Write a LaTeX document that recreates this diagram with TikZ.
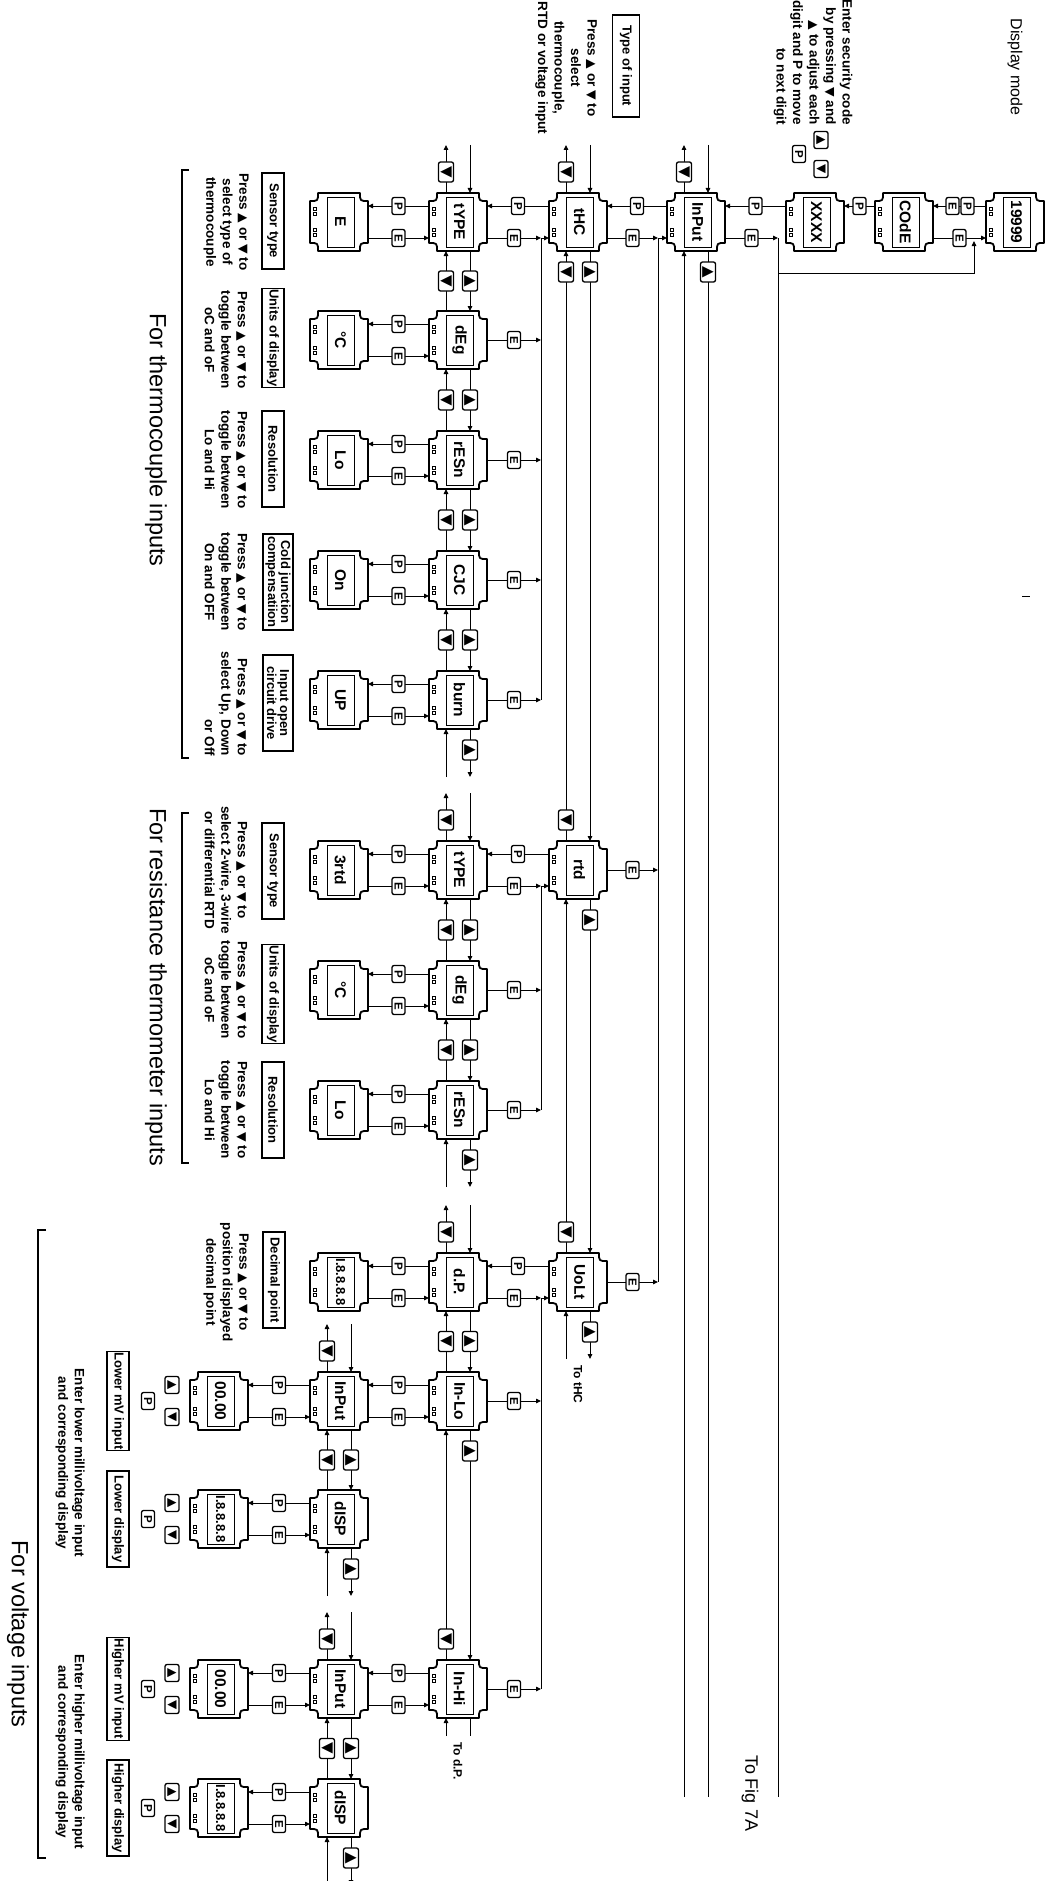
\documentclass[tikz,border=0pt]{standalone}
\usepackage{fontspec}
\setmainfont{Liberation Sans}
\newfontfamily\dvf{DejaVu Sans}
\usetikzlibrary{calc,arrows.meta}
\newcommand\TriU{{\dvf\fontsize{15}{15}\selectfont ▲}}
\newcommand\TriD{{\dvf\fontsize{15}{15}\selectfont ▼}}
\newcommand\TriUs{{\dvf\fontsize{12}{12}\selectfont ▲}}
\newcommand\TriDs{{\dvf\fontsize{12}{12}\selectfont ▼}}
\newcommand\txU{{\dvf\fontsize{12.5}{16}\selectfont ▲}}
\newcommand\txD{{\dvf\fontsize{12.5}{16}\selectfont ▼}}
\newcommand\Dev[4]{%
 \node[devbody] (#1) at (#2,#3) {};
 \begin{scope}[shift={(#1.center)}]
  \draw[devline] (-21,-29) -- (21,-29) .. controls (21,-21) .. (29,-21) -- (29,21) .. controls (21,21) .. (21,29) -- (-21,29) .. controls (-21,21) .. (-29,21) -- (-29,-21) .. controls (-21,-21) .. (-21,-29) -- cycle;
  \draw[disp] (-12,-25) rectangle (15,25);
  \foreach \s in {-14.5,-9.5,6.5,11.5} \draw[line width=0.6pt] (-25.5,\s) rectangle ++(3,3);
 \end{scope}
 \node[devtxt] (#1-t) at ($(#1)+(1.5,0)$) {#4};
}
\newcommand\PEl[2]{%
 \draw[conn,arr] ($(#1)+(-29,-16)$) -- node[pbtn] (P-#2) {P} ($(#2)+(29,-16)$);
 \draw[conn,arr] ($(#2)+(29,16)$) -- node[pbtn] (E-#2) {E} ($(#1)+(-29,16)$);}
\newcommand\Ponly[2]{%
 \draw[conn,arr] ($(#1)+(-29,-16)$) -- node[pbtn] (P-#2) {P} ($(#2)+(29,-16)$);}
\newcommand\UDl[2]{%
 \draw[conn,arr] ($(#2)+(-12,-29)$) -- node[tbtn] (U-#2) {\TriD} ($(#1)+(-12,29)$);
 \draw[conn,arr] ($(#1)+(12,29)$) -- node[tbtn] (D-#1) {\TriU} ($(#2)+(12,-29)$);}
\newcommand\TopS[1]{%
 \draw[conn,arr] ($(#1)+(-12,-29)$) -- ($(#1)+(-12,-77)$);
 \node[tbtn] (U-#1) at ($(#1)+(-12,-50)$) {\TriD};
 \draw[conn,arr] ($(#1)+(12,-77)$) -- ($(#1)+(12,-29)$);}
\newcommand\BotS[1]{%
 \draw[conn,arr] ($(#1)+(12,29)$) -- ($(#1)+(12,77)$);
 \node[tbtn] (D-#1) at ($(#1)+(12,50)$) {\TriU};
 \draw[conn,arr] ($(#1)+(-12,77)$) -- ($(#1)+(-12,29)$);}
\newcommand\Legend[1]{%
 \node[lbtn] (LU-#1) at ($(#1)+(-47,-16)$) {\TriUs};
 \node[lbtn] (LD-#1) at ($(#1)+(-47,16)$) {\TriDs};
 \node[pbtn] (LP-#1) at ($(#1)+(-71,0)$) {P};}
\begin{document}
\begin{tikzpicture}[x=1pt,y=-1pt,
 conn/.style={line width=0.9pt},
 arr/.style={-{Triangle[length=5pt,width=4.5pt]}},
 devline/.style={line width=1.8pt,line join=round},
 devbody/.style={minimum size=58pt,inner sep=0pt,outer sep=0pt},
 disp/.style={line width=0.9pt},
 devtxt/.style={rotate=-90,inner sep=0pt,font=\fontsize{15.5}{15.5}\selectfont\bfseries},
 btn/.style={draw,fill=white,line width=1.3pt,rounded corners=2pt,rotate=-90,inner sep=0pt},
 pbtn/.style={btn,minimum width=17pt,minimum height=13pt,font=\fontsize{11.5}{11.5}\selectfont\bfseries},
 tbtn/.style={btn,minimum width=20pt,minimum height=15pt},
 lbtn/.style={btn,minimum width=17pt,minimum height=14pt},
 lbox/.style={draw,line width=1.2pt,rotate=-90,minimum width=96pt,minimum height=22pt,inner sep=1pt,align=center,font=\fontsize{13}{13}\selectfont\bfseries},
 press/.style={rotate=-90,inner sep=0pt,align=center,font=\fontsize{13.5}{16.5}\selectfont\bfseries},
 hdr/.style={rotate=-90,inner sep=0pt,font=\fontsize{23.5}{23.5}\selectfont},
 small/.style={rotate=-90,inner sep=0pt,font=\fontsize{12}{12}\selectfont\bfseries}]
\fill[white] (0,0) rectangle (1050,1881);
\useasboundingbox (0,0) rectangle (1050,1881);

% ---------- devices
\Dev{dm}{1015}{222}{19999}
\Dev{code}{904}{222}{COdE}
\Dev{xxxx}{815}{222}{XXXX}
\Dev{inp}{696}{222}{InPut}
\Dev{thc}{578}{222}{tHC}
\Dev{ty1}{458}{222}{tYPE}
\Dev{se}{339}{222}{E}
\Dev{dg1}{458}{340}{dEg}
\Dev{dc1}{339}{340}{°C}
\Dev{rs1}{458}{460}{rESn}
\Dev{lo1}{339}{460}{Lo}
\Dev{cjc}{458}{580}{CJC}
\Dev{on}{339}{580}{On}
\Dev{burn}{458}{700}{burn}
\Dev{up}{339}{700}{UP}
\Dev{rtd}{578}{870}{rtd}
\Dev{ty2}{458}{870}{tYPE}
\Dev{r3}{339}{870}{3rtd}
\Dev{dg2}{458}{990}{dEg}
\Dev{dc2}{339}{990}{°C}
\Dev{rs2}{458}{1110}{rESn}
\Dev{lo2}{339}{1110}{Lo}
\Dev{volt}{578}{1282}{UoLt}
\Dev{dp}{458}{1282}{d.P.}
\Dev{dps}{339}{1282}{{\fontsize{13}{12}\selectfont I.8.8.8.8}}
\Dev{inlo}{458}{1401}{In-Lo}
\Dev{ip2}{339}{1401}{InPut}
\Dev{za}{219}{1401}{00.00}
\Dev{ds1}{339}{1519}{dISP}
\Dev{ea}{219}{1519}{{\fontsize{13}{12}\selectfont I.8.8.8.8}}
\Dev{inhi}{458}{1689}{In-Hi}
\Dev{ip3}{339}{1689}{InPut}
\Dev{zb}{219}{1689}{00.00}
\Dev{ds2}{339}{1808}{dISP}
\Dev{eb}{219}{1808}{{\fontsize{13}{12}\selectfont I.8.8.8.8}}

% ---------- bus coordinates
\coordinate (b541a) at (541,238);
\coordinate (b541b) at (541,700);
\coordinate (b541c) at (541,886);
\coordinate (b541d) at (541,1110);
\coordinate (b541e) at (541,1298);
\coordinate (b541f) at (541,1689);
\coordinate (b658a) at (658,238);
\coordinate (b658b) at (658,1282);
\coordinate (b778a) at (778,238);
\coordinate (b778b) at (778,1797);
\coordinate (b778c) at (778,273);
\coordinate (k974a) at (974,273);
\coordinate (k974b) at (974,241);
\coordinate (f684) at (684,1797);
\coordinate (f708) at (708,1797);

\draw[conn] (b541a) -- (b541b);
\draw[conn] (b541c) -- (b541d);
\draw[conn] (b541e) -- (b541f);
\draw[conn] (b658a) -- (b658b);
\draw[conn] (b778a) -- (b778b);
\draw[conn,arr] (b778c) -- (k974a) -- (k974b);

% ---------- top chain
\draw[conn,arr] ($(dm)+(-29,-16)$) -- node[pbtn,pos=0.35] (P-code) {P} node[pbtn,pos=0.632] (E-code) {E} ($(code)+(29,-16)$);
\draw[conn,arr] ($(code)+(29,16)$) -- node[pbtn] (E2-code) {E} ($(dm)+(-29,16)$);
\Ponly{code}{xxxx}
\Ponly{xxxx}{inp}
\Ponly{inp}{thc}
\Ponly{thc}{ty1}
\Ponly{rtd}{ty2}
\Ponly{volt}{dp}
\draw[conn,arr] ($(inp)+(29,16)$) -- node[pbtn] (E-inp) {E} (b778a);
\draw[conn,arr] ($(thc)+(29,16)$) -- node[pbtn] (E-thc) {E} (b658a);
\draw[conn,arr] (b658a) -- ($(inp)+(-29,16)$);
\draw[conn,arr] ($(ty1)+(29,16)$) -- node[pbtn] (E-ty1) {E} (b541a);
\draw[conn,arr] (b541a) -- ($(thc)+(-29,16)$);
\draw[conn,arr] ($(ty2)+(29,16)$) -- node[pbtn] (E-ty2) {E} (b541c);
\draw[conn,arr] (b541c) -- ($(rtd)+(-29,16)$);
\draw[conn,arr] ($(dp)+(29,16)$) -- node[pbtn] (E-dp) {E} (b541e);
\draw[conn,arr] (b541e) -- ($(volt)+(-29,16)$);
\foreach \n in {dg1,rs1,cjc,burn,dg2,rs2,inlo,inhi}
  \draw[conn,arr] ($(\n)+(29,0)$) -- node[pbtn] (Ec-\n) {E} (\n -| b541a);
\draw[conn,arr] ($(rtd)+(29,0)$) -- node[pbtn] (Ec-rtd) {E} (rtd -| b658a);
\draw[conn,arr] ($(volt)+(29,0)$) -- node[pbtn] (Ec-volt) {E} (volt -| b658a);

% ---------- P/E pairs
\PEl{ty1}{se} \PEl{dg1}{dc1} \PEl{rs1}{lo1} \PEl{cjc}{on} \PEl{burn}{up}
\PEl{ty2}{r3} \PEl{dg2}{dc2} \PEl{rs2}{lo2}
\PEl{dp}{dps} \PEl{inlo}{ip2} \PEl{ip2}{za} \PEl{ds1}{ea}
\PEl{inhi}{ip3} \PEl{ip3}{zb} \PEl{ds2}{eb}

% ---------- up/down links
\UDl{ty1}{dg1} \UDl{dg1}{rs1} \UDl{rs1}{cjc} \UDl{cjc}{burn}
\UDl{ty2}{dg2} \UDl{dg2}{rs2}
\UDl{dp}{inlo} \UDl{ip2}{ds1} \UDl{ip3}{ds2}
\TopS{ty1} \TopS{thc} \TopS{inp} \TopS{ty2} \TopS{dp} \TopS{ip2} \TopS{ip3}
\BotS{burn} \BotS{rs2} \BotS{ds1} \BotS{ds2}

% tHC - rtd - UoLt
\draw[conn,arr] ($(rtd)+(-12,-29)$) -- ($(thc)+(-12,29)$);
\node[tbtn] (U-rtd) at ($(rtd)+(-12,-50)$) {\TriD};
\node[tbtn] (U2-thc) at ($(thc)+(-12,50)$) {\TriD};
\draw[conn,arr] ($(thc)+(12,29)$) -- ($(rtd)+(12,-29)$);
\node[tbtn] (D-thc) at ($(thc)+(12,50)$) {\TriU};
\draw[conn,arr] ($(volt)+(-12,-29)$) -- ($(rtd)+(-12,29)$);
\node[tbtn] (U-volt) at ($(volt)+(-12,-50)$) {\TriD};
\draw[conn,arr] ($(rtd)+(12,29)$) -- ($(volt)+(12,-29)$);
\node[tbtn] (D-rtd) at ($(rtd)+(12,50)$) {\TriU};
\draw[conn,arr] ($(volt)+(12,29)$) -- ($(volt)+(12,77)$);
\node[tbtn] (D-volt) at ($(volt)+(12,50)$) {\TriU};
\draw[conn,arr] ($(volt)+(-12,77)$) -- ($(volt)+(-12,29)$);
\node[small,anchor=west] (to-thc) at ($(volt)+(0,83)$) {To tHC};

% In-Lo - In-Hi
\draw[conn,arr] ($(inhi)+(-12,-29)$) -- ($(inlo)+(-12,29)$);
\node[tbtn] (U-inhi) at ($(inhi)+(-12,-50)$) {\TriD};
\draw[conn,arr] ($(inlo)+(12,29)$) -- ($(inhi)+(12,-29)$);
\node[tbtn] (D-inlo) at ($(inlo)+(12,50)$) {\TriU};
\draw[conn] ($(inhi)+(12,29)$) -- ($(inhi)+(12,47)$);
\draw[conn,arr] ($(inhi)+(-12,47)$) -- ($(inhi)+(-12,29)$);
\node[small,anchor=west] (to-dp) at ($(inhi)+(0,53)$) {To d.P.};

% InPut (top) long lines
\draw[conn,arr] (f684) -- ($(inp)+(-12,29)$);
\draw[conn] ($(inp)+(12,29)$) -- (f708);
\node[tbtn] (D-inp) at ($(inp)+(12,50)$) {\TriU};

% ---------- legends
\node[lbtn] (LU-x) at (821,140) {\TriUs};
\node[lbtn] (LD-x) at (821,169) {\TriDs};
\node[pbtn] (LP-x) at (799,154) {P};
\Legend{za} \Legend{ea} \Legend{zb} \Legend{eb}

% ---------- label boxes
\node[lbox,minimum width=102pt,minimum height=27pt] (lb-type) at (626,66) {Type of input};
\node[lbox] (lb-st1) at (273,221) {Sensor type};
\node[lbox] (lb-ud1) at (273,338) {Units of display};
\node[lbox] (lb-rs1) at (273,459) {Resolution};
\node[lbox,minimum height=30pt] (lb-cj) at (278,582) {Cold junction\\compensatiion};
\node[lbox,minimum height=30pt] (lb-io) at (278,703) {Input open\\circuit drive};
\node[lbox] (lb-st2) at (273,871) {Sensor type};
\node[lbox] (lb-ud2) at (273,994) {Units of display};
\node[lbox] (lb-rs2) at (273,1110) {Resolution};
\node[lbox] (lb-dp) at (274,1280) {Decimal point};
\node[lbox] (lb-lmv) at (118,1401) {Lower mV input};
\node[lbox] (lb-ld) at (118,1519) {Lower display};
\node[lbox] (lb-hmv) at (118,1689) {Higher mV input};
\node[lbox] (lb-hd) at (118,1808) {Higher display};

% ---------- explanatory texts
\node[press] (tx-type) at (566,68) {Press \txU{} or \txD{} to\\select\\thermocouple,\\RTD or voltage input};
\node[press,align=right,anchor=east] (tx-sec) at (813,125) {Enter security code\\by pressing \txD{} and\\\txU{} to adjust each\\digit and P to move\\to next digit};
\node[press] (tx-st1) at (226,222) {Press \txU{} or \txD{} to\\select type of\\thermocouple};
\node[press] (tx-ud1) at (226,340) {Press \txU{} or \txD{} to\\toggle between\\oC and oF};
\node[press] (tx-rs1) at (226,460) {Press \txU{} or \txD{} to\\toggle between\\Lo and Hi};
\node[press] (tx-cj) at (226,582) {Press \txU{} or \txD{} to\\toggle between\\On and OFF};
\node[press,align=right] (tx-io) at (226,704) {Press \txU{} or \txD{} to\\select Up, Down\\or Off};
\node[press] (tx-st2) at (226,870) {Press \txU{} or \txD{} to\\select 2-wire, 3-wire\\or differential RTD};
\node[press] (tx-ud2) at (226,990) {Press \txU{} or \txD{} to\\toggle between\\oC and oF};
\node[press] (tx-rs2) at (226,1110) {Press \txU{} or \txD{} to\\toggle between\\Lo and Hi};
\node[press] (tx-dp) at (226,1282) {Press \txU{} or \txD{} to\\position displayed\\decimal point};
\node[press] (tx-lo) at (70,1463) {Enter lower millivoltage input\\and corresponding display};
\node[press] (tx-hi) at (70,1752) {Enter higher millivoltage input\\and corresponding display};

% ---------- headings
\node[hdr,font=\fontsize{16}{16}\selectfont] (h-dm) at (1015,67) {Display mode};
\node[hdr,font=\fontsize{18}{18}\selectfont] (h-fig) at (750,1793) {To Fig 7A};
\node[hdr] (h-tc) at (156,440) {For thermocouple inputs};
\node[hdr] (h-rtd) at (156,987) {For resistance thermometer inputs};
\node[hdr] (h-v) at (18,1634) {For voltage inputs};

% ---------- brackets and mark
\draw[line width=1.3pt] (189,170) -- (182,170) -- (182,758) -- (189,758);
\draw[line width=1.3pt] (189,813) -- (182,813) -- (182,1163) -- (189,1163);
\draw[line width=1.3pt] (46,1230) -- (38,1230) -- (38,1858) -- (46,1858);
\draw[line width=0.8pt] (1022,596) -- (1030,596);
\end{tikzpicture}
\end{document}
